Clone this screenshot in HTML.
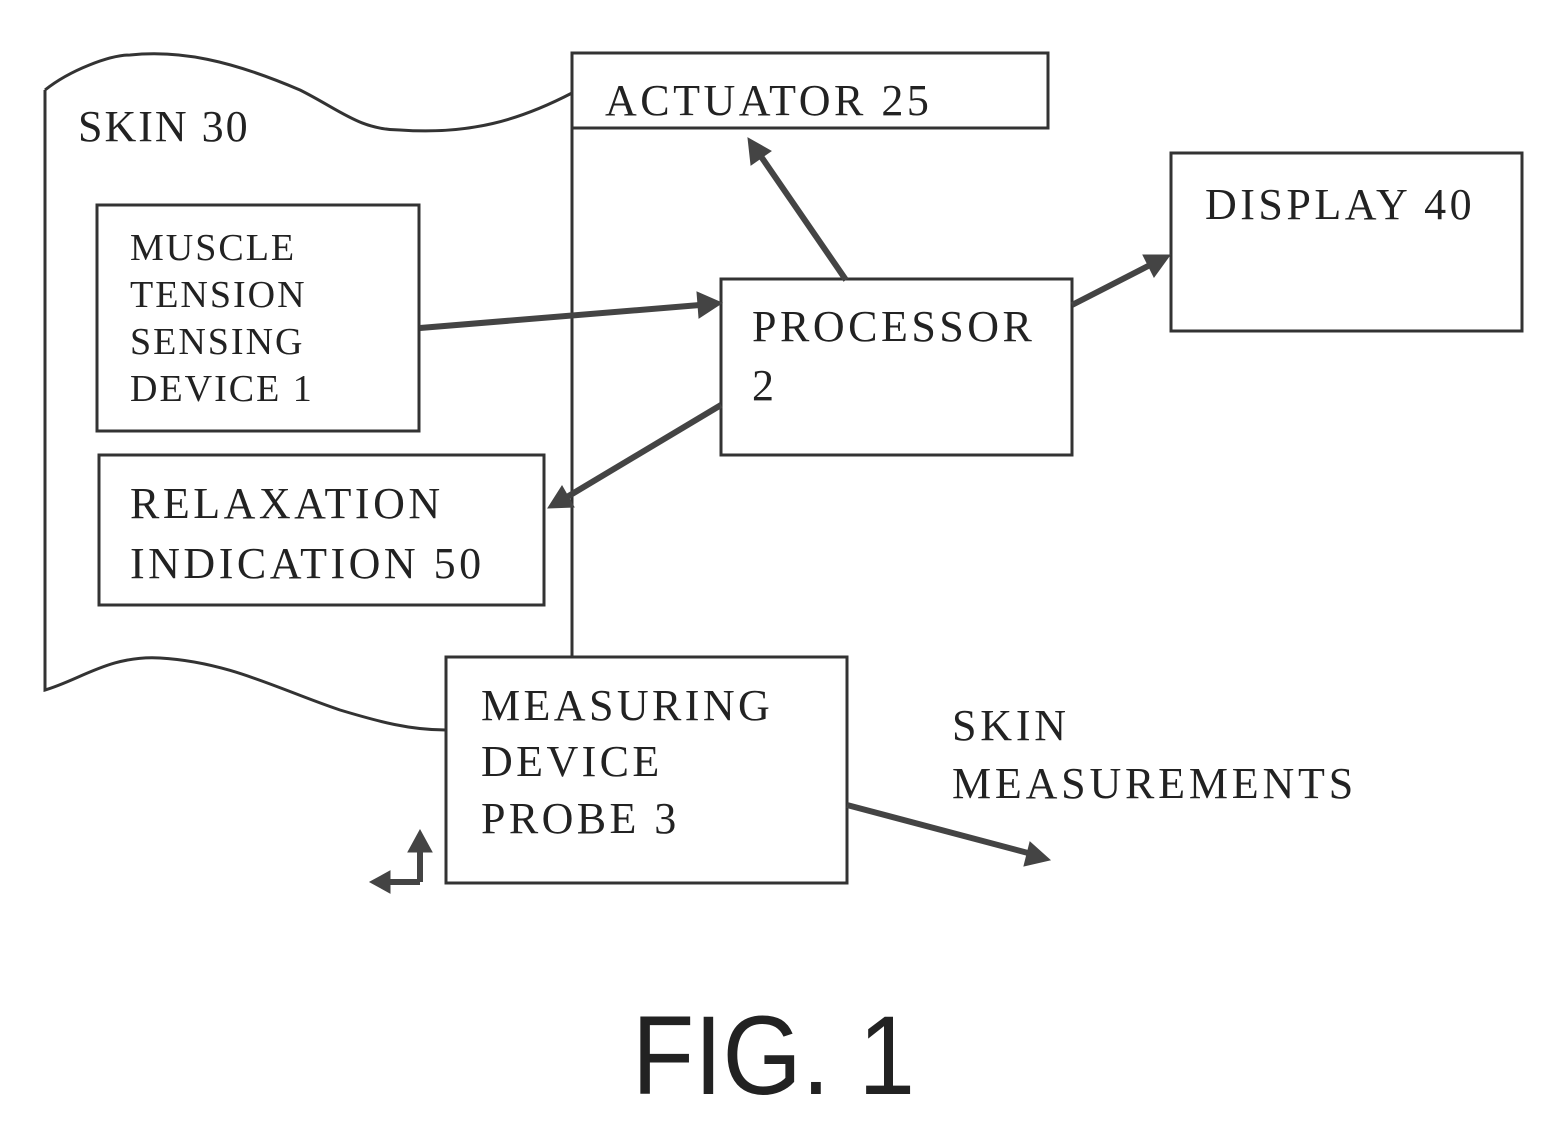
<!DOCTYPE html>
<html><head><meta charset="utf-8"><style>
html,body{margin:0;padding:0;background:#fff}
svg{display:block}
text{font-family:"Liberation Serif",serif;fill:#222}
</style></head><body>
<svg width="1559" height="1134" viewBox="0 0 1559 1134" xmlns="http://www.w3.org/2000/svg">
<g fill="none" stroke="#333" stroke-width="3">
<path d="M45,90 C70,70 110,55 130,55 C180,50 230,60 300,90 C340,110 360,130 400,130 C470,135 520,120 572,93"/>
<path d="M45,90 L45,690 C80,680 110,655 160,658 C230,662 280,690 340,710 C380,722 410,730 446,730"/>
<rect x="572" y="53" width="476" height="75"/>
<line x1="572" y1="128" x2="572" y2="658"/>
<rect x="1171" y="153" width="351" height="178"/>
<rect x="97" y="205" width="322" height="226"/>
<rect x="99" y="455" width="445" height="150"/>
<rect x="721" y="279" width="351" height="176"/>
<rect x="446" y="657" width="401" height="226"/>
</g>
<g stroke="#444" stroke-width="6" fill="#444">
<line x1="420" y1="328" x2="700" y2="305"/>
<polygon points="722,303 697,292 699,318" stroke-width="1"/>
<line x1="846" y1="280" x2="760" y2="155"/>
<polygon points="748,138 751,165 771,151" stroke-width="1"/>
<line x1="1072" y1="305" x2="1150" y2="265"/>
<polygon points="1170,255 1143,255 1154,277" stroke-width="1"/>
<line x1="721" y1="405" x2="567" y2="497"/>
<polygon points="548,508 574,507 562,486" stroke-width="1"/>
<line x1="847" y1="805" x2="1028" y2="853"/>
<polygon points="1050,860 1030,842 1024,866" stroke-width="1"/>
<line x1="420" y1="882" x2="420" y2="848"/>
<polygon points="420,830 408,852 432,852" stroke-width="1"/>
<line x1="420" y1="882" x2="388" y2="882"/>
<polygon points="370,882 390,871 390,893" stroke-width="1"/>
</g>
<text x="78" y="141" font-size="44" letter-spacing="2">SKIN 30</text>
<text x="605" y="115" font-size="44" letter-spacing="3.5">ACTUATOR 25</text>
<text x="1205" y="219" font-size="44" letter-spacing="3.5">DISPLAY 40</text>
<text font-size="38" letter-spacing="2"><tspan x="130" y="260">MUSCLE</tspan><tspan x="130" y="307">TENSION</tspan><tspan x="130" y="354">SENSING</tspan><tspan x="130" y="401">DEVICE 1</tspan></text>
<text font-size="44" letter-spacing="3.5"><tspan x="752" y="341">PROCESSOR</tspan><tspan x="752" y="400">2</tspan></text>
<text font-size="44" letter-spacing="3.5"><tspan x="130" y="518">RELAXATION</tspan><tspan x="130" y="578">INDICATION 50</tspan></text>
<text font-size="44" letter-spacing="3.4"><tspan x="481" y="720">MEASURING</tspan><tspan x="481" y="776">DEVICE</tspan><tspan x="481" y="833">PROBE 3</tspan></text>
<text font-size="44" letter-spacing="3.8"><tspan x="952" y="740">SKIN</tspan><tspan x="952" y="798">MEASUREMENTS</tspan></text>
<text x="632" y="1094" font-size="112" textLength="283" lengthAdjust="spacingAndGlyphs" style="font-family:'Liberation Sans',sans-serif" fill="#555">FIG. 1</text>
</svg>
</body></html>
